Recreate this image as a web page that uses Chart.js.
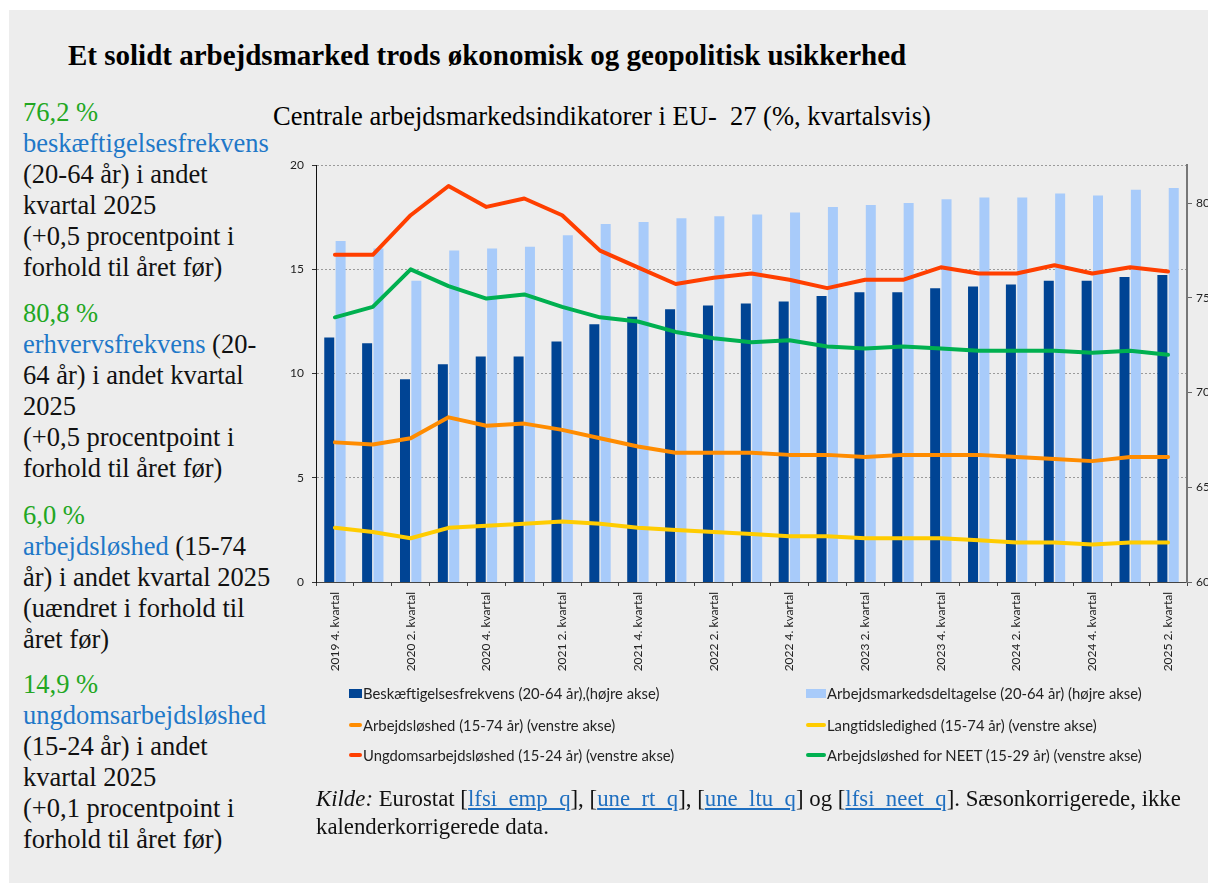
<!DOCTYPE html>
<html>
<head>
<meta charset="utf-8">
<script src="https://cdn.jsdelivr.net/npm/chart.js@4"></script>
<style>
  html, body { margin:0; padding:0; background:#ffffff; }
  body { width:1208px; height:891px; position:relative; overflow:hidden; }
  #panel { position:absolute; left:9px; top:10px; width:1199px; height:873px; background:#ededed; }
  .serif { font-family:"Liberation Serif","Times New Roman",serif; }
  #title { position:absolute; left:68px; top:37px; font-size:29px; line-height:36px; font-weight:bold; color:#000; white-space:nowrap; }
  #subtitle { position:absolute; left:273px; top:99px; font-size:26.5px; line-height:34px; color:#000; white-space:nowrap; }
  .block { position:absolute; left:23px; font-size:26.5px; line-height:31px; color:#111; white-space:nowrap; }
  .g { color:#22a722; }
  .b { color:#1f78c8; }
  #chartbox { position:absolute; left:270px; top:150px; width:938px; height:535px; }
  #legend { position:absolute; left:0; top:0; width:1208px; height:891px; pointer-events:none;
            font-family:Lato,"Open Sans",sans-serif; font-size:14.8px; color:#222; }
  .li { position:absolute; white-space:nowrap; line-height:18px; }
  .mk { position:absolute; }
  #source { position:absolute; left:316px; top:785px; font-size:22.8px; line-height:28px; color:#111; white-space:nowrap; }
  #source a { color:#1f6fc0; text-decoration:underline; }
</style>
</head>
<body>
<div id="panel"></div>
<div id="title" class="serif">Et solidt arbejdsmarked trods økonomisk og geopolitisk usikkerhed</div>
<div id="subtitle" class="serif">Centrale arbejdsmarkedsindikatorer i EU-&nbsp; 27 (%, kvartalsvis)</div>

<div class="block serif" style="top:97px;">
<span class="g">76,2 %</span><br>
<span class="b">beskæftigelsesfrekvens</span><br>
(20-64 år) i andet<br>
kvartal 2025<br>
(+0,5 procentpoint i<br>
forhold til året før)
</div>
<div class="block serif" style="top:298px;">
<span class="g">80,8 %</span><br>
<span class="b">erhvervsfrekvens</span> (20-<br>
64 år) i andet kvartal<br>
2025<br>
(+0,5 procentpoint i<br>
forhold til året før)
</div>
<div class="block serif" style="top:500px;">
<span class="g">6,0 %</span><br>
<span class="b">arbejdsløshed</span> (15-74<br>
år) i andet kvartal 2025<br>
(uændret i forhold til<br>
året før)
</div>
<div class="block serif" style="top:669px;">
<span class="g">14,9 %</span><br>
<span class="b">ungdomsarbejdsløshed</span><br>
(15-24 år) i andet<br>
kvartal 2025<br>
(+0,1 procentpoint i<br>
forhold til året før)
</div>

<div id="chartbox"><canvas id="c"></canvas></div>
<div id="legend"></div>

<div id="source" class="serif"><i>Kilde:</i> Eurostat [<a>lfsi_emp_q</a>], [<a>une_rt_q</a>], [<a>une_ltu_q</a>] og [<a>lfsi_neet_q</a>]. Sæsonkorrigerede, ikke<br>kalenderkorrigerede data.</div>

<script>
// ---- Data ----
const quarters = [
  "2019 4. kvartal","2020 1. kvartal","2020 2. kvartal","2020 3. kvartal","2020 4. kvartal",
  "2021 1. kvartal","2021 2. kvartal","2021 3. kvartal","2021 4. kvartal",
  "2022 1. kvartal","2022 2. kvartal","2022 3. kvartal","2022 4. kvartal",
  "2023 1. kvartal","2023 2. kvartal","2023 3. kvartal","2023 4. kvartal",
  "2024 1. kvartal","2024 2. kvartal","2024 3. kvartal","2024 4. kvartal",
  "2025 1. kvartal","2025 2. kvartal"
];
// right axis (%)
const employmentRate = [72.9,72.6,70.7,71.5,71.9,71.9,72.7,73.6,74.0,74.4,74.6,74.7,74.8,75.1,75.3,75.3,75.5,75.6,75.7,75.9,75.9,76.1,76.2];
const activityRate   = [78.0,77.6,75.9,77.5,77.6,77.7,78.3,78.9,79.0,79.2,79.3,79.4,79.5,79.8,79.9,80.0,80.2,80.3,80.3,80.5,80.4,80.7,80.8];
// left axis (%)
const unemployment   = [6.7,6.6,6.9,7.9,7.5,7.6,7.3,6.9,6.5,6.2,6.2,6.2,6.1,6.1,6.0,6.1,6.1,6.1,6.0,5.9,5.8,6.0,6.0];
const longTermUnemp  = [2.6,2.4,2.1,2.6,2.7,2.8,2.9,2.8,2.6,2.5,2.4,2.3,2.2,2.2,2.1,2.1,2.1,2.0,1.9,1.9,1.8,1.9,1.9];
const youthUnemp     = [15.7,15.7,17.6,19.0,18.0,18.4,17.6,15.9,15.1,14.3,14.6,14.8,14.5,14.1,14.5,14.5,15.1,14.8,14.8,15.2,14.8,15.1,14.9];
const neetUnemp      = [12.7,13.2,15.0,14.2,13.6,13.8,13.2,12.7,12.5,12.0,11.7,11.5,11.6,11.3,11.2,11.3,11.2,11.1,11.1,11.1,11.0,11.1,10.9];

const leftTicks = [0,5,10,15,20];
const rightTicks = [60,65,70,75,80];

const seriesNames = {
  emp: "Beskæftigelsesfrekvens (20-64 år),(højre akse)",
  act: "Arbejdsmarkedsdeltagelse (20-64 år) (højre akse)",
  une: "Arbejdsløshed (15-74 år) (venstre akse)",
  ltu: "Langtidsledighed (15-74 år) (venstre akse)",
  youth: "Ungdomsarbejdsløshed (15-24 år) (venstre akse)",
  neet: "Arbejdsløshed for NEET (15-29 år) (venstre akse)"
};

const C = {
  emp: "#004494", act: "#a8cbfa", une: "#ff8c00", ltu: "#ffcc00", youth: "#ff3f00", neet: "#00b050"
};

const lineDs = (label, data, color) => ({
  type: 'line', label, data, yAxisID: 'y', borderColor: color, backgroundColor: color,
  borderWidth: 4, pointRadius: 0, tension: 0, order: 0, borderCapStyle: 'round', borderJoinStyle: 'round'
});

new Chart(document.getElementById('c'), {
  type: 'bar',
  data: {
    labels: quarters,
    datasets: [
      { label: seriesNames.emp, data: employmentRate, yAxisID: 'y1', backgroundColor: C.emp, order: 1,
        categoryPercentage: 0.6, barPercentage: 0.88 },
      { label: seriesNames.act, data: activityRate, yAxisID: 'y1', backgroundColor: C.act, order: 1,
        categoryPercentage: 0.6, barPercentage: 0.88 },
      lineDs(seriesNames.une, unemployment, C.une),
      lineDs(seriesNames.ltu, longTermUnemp, C.ltu),
      lineDs(seriesNames.youth, youthUnemp, C.youth),
      lineDs(seriesNames.neet, neetUnemp, C.neet)
    ]
  },
  options: {
    responsive: true, maintainAspectRatio: false, animation: false,
    layout: { padding: { top: 11, left: 0, right: 0, bottom: 0 } },
    plugins: { legend: { display: false }, tooltip: { enabled: false } },
    scales: {
      x: {
        offset: true,
        grid: { display: true, offset: true, drawOnChartArea: false, drawTicks: true, tickLength: 4, tickColor: '#444', tickWidth: 1 },
        border: { display: true, color: '#444', width: 1 },
        ticks: {
          autoSkip: false, maxRotation: 90, minRotation: 90, padding: 6,
          font: { family: 'Lato, "Open Sans", sans-serif', size: 12 }, color: '#222',
          callback: function(v, i) { return i % 2 === 0 ? this.getLabelForValue(v) : ''; }
        },
        afterFit: s => { s.height = 103; }
      },
      y: {
        position: 'left', min: 0, max: 20,
        afterBuildTicks: s => { s.ticks = leftTicks.map(v => ({ value: v })); },
        grid: { color: '#9a9a9a', lineWidth: 1, drawTicks: true, tickLength: 4, tickColor: '#333', tickBorderDash: [] },
        border: { display: true, color: '#111', width: 1, dash: [2, 2] },
        ticks: { padding: 8, font: { family: 'Lato, "Open Sans", sans-serif', size: 12 }, color: '#222' },
        afterFit: s => { s.width = 46; }
      },
      y1: {
        position: 'right', min: 60, max: 82,
        afterBuildTicks: s => { s.ticks = rightTicks.map(v => ({ value: v })); },
        grid: { drawOnChartArea: false, drawTicks: true, tickLength: 5, tickColor: '#666' },
        border: { display: true, color: '#777', width: 2 },
        ticks: { padding: 4, font: { family: 'Lato, "Open Sans", sans-serif', size: 12 }, color: '#222' },
        afterFit: s => { s.width = 21; }
      }
    }
  }
});

// HTML legend, built from the series names and colours
const legendItems = [
  { key: 'emp', kind: 'box', x: 349, y: 693 },
  { key: 'act', kind: 'box', x: 806, y: 693 },
  { key: 'une', kind: 'line', x: 349, y: 725 },
  { key: 'ltu', kind: 'line', x: 806, y: 725 },
  { key: 'youth', kind: 'line', x: 349, y: 755 },
  { key: 'neet', kind: 'line', x: 806, y: 755 }
];
const lg = document.getElementById('legend');
legendItems.forEach(it => {
  const col = it.x < 500 ? 0 : 1;
  const mw = col === 0 ? 13 : 20;
  const mk = document.createElement('div');
  mk.className = 'mk';
  mk.style.left = it.x + 'px';
  mk.style.width = mw + 'px';
  mk.style.background = C[it.key];
  if (it.kind === 'box') { mk.style.top = (it.y - 4) + 'px'; mk.style.height = '9px'; }
  else { mk.style.top = (it.y - 2) + 'px'; mk.style.height = '4px'; mk.style.borderRadius = '2px'; }
  lg.appendChild(mk);
  const t = document.createElement('div');
  t.className = 'li';
  t.style.left = (it.x + mw + 1) + 'px';
  t.style.top = (it.y - 9) + 'px';
  t.textContent = seriesNames[it.key];
  lg.appendChild(t);
});
</script>
</body>
</html>
